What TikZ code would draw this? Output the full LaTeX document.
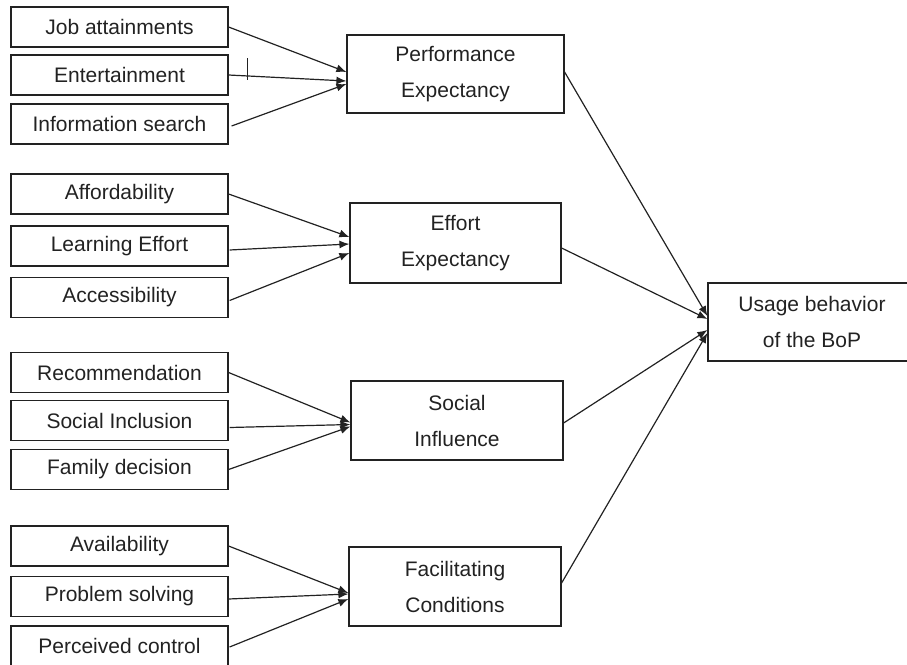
\documentclass[tikz,border=0pt]{standalone}
\usepackage{fontspec}
\setmainfont{Liberation Sans}
\usetikzlibrary{arrows.meta,calc}
\definecolor{ink}{HTML}{222222}
\begin{document}
\begin{tikzpicture}[x=1pt,y=-1pt,
  every node/.style={font=\fontsize{21}{36}\selectfont, text=ink},
  lbox/.style={draw=ink, line width=1.2pt, inner sep=0pt, minimum width=217pt, minimum height=40pt},
  mbox/.style={draw=ink, line width=1.2pt, inner sep=0pt, minimum width=212pt, minimum height=79pt, align=center},
  conn/.style={draw=ink, line width=1.2pt, -{Latex[length=10pt,width=8pt]}}
]
\useasboundingbox (0,0) rectangle (907,664);

% left boxes
\node[lbox] (job)  at (119.5,27)  {Job attainments};
\node[lbox] (ent)  at (119.5,75)  {Entertainment};
\node[lbox] (info) at (119.5,124) {Information search};

\node[lbox] (aff)  at (119.5,194) {Affordability};
\node[lbox] (lea)  at (119.5,246) {Learning Effort};
\node[lbox] (acc)  at (119.5,297.5) {Accessibility};

\node[lbox] (rec)  at (119.5,372.5) {Recommendation};
\node[lbox] (soc)  at (119.5,420.5) {Social Inclusion};
\node[lbox] (fam)  at (119.5,469.5) {Family decision};

\node[lbox] (ava)  at (119.5,546) {Availability};
\node[lbox] (pro)  at (119.5,596.5) {Problem solving};
\node[lbox] (per)  at (119.5,646) {Perceived control};

% middle boxes
\node[mbox, minimum width=217pt, minimum height=78pt] (pe) at (455.5,74) {Performance\\Expectancy};
\node[mbox, minimum width=211pt, minimum height=80pt] (ee) at (455.5,243) {Effort\\Expectancy};
\node[mbox, minimum width=212pt, minimum height=79pt] (si) at (457,420.5) {Social\\Influence};
\node[mbox, minimum width=212pt, minimum height=79pt] (fc) at (455,586.5) {Facilitating\\Conditions};

% outcome box
\node[mbox, minimum width=208pt, minimum height=78pt] (ub) at (812,322) {Usage behavior\\of the BoP};

% inputs to Performance Expectancy
\draw[conn] (job.east) -- ($(pe.west)+(0,-2)$);
\draw[conn] (ent.east) -- ($(pe.west)+(0,7)$);
\draw[conn] ($(info.east)+(3,2)$) -- ($(pe.west)+(0,10)$);
\coordinate (tickA) at (247,58);
\coordinate (tickB) at (247,80);
\draw[draw=ink, line width=1pt] (tickA) -- (tickB);

% inputs to Effort Expectancy
\draw[conn] (aff.east) -- ($(ee.west)+(0,-6)$);
\draw[conn] ($(lea.east)+(1,4)$) -- ($(ee.west)+(0,1)$);
\draw[conn] ($(acc.east)+(1,3)$) -- ($(ee.west)+(0,10)$);

% inputs to Social Influence
\draw[conn] (rec.east) -- ($(si.west)+(0,2)$);
\draw[conn] ($(soc.east)+(1,7)$) -- ($(si.west)+(0,4)$);
\draw[conn] (fam.east) -- ($(si.west)+(0,6)$);

% inputs to Facilitating Conditions
\draw[conn] (ava.east) -- ($(fc.west)+(0,6.5)$);
\draw[conn] ($(pro.east)+(0,2.5)$) -- ($(fc.west)+(0,7.5)$);
\draw[conn] ($(per.east)+(1,1)$) -- ($(fc.west)+(0,12.5)$);

% to outcome
\draw[conn] ($(pe.east)+(0,-2)$) -- ($(ub.west)+(0,-6)$);
\draw[conn] ($(ee.east)+(0,5)$) -- ($(ub.west)+(0,-3)$);
\draw[conn] ($(si.east)+(0,2.5)$) -- ($(ub.west)+(0,8)$);
\draw[conn] ($(fc.east)+(0,-3.5)$) -- ($(ub.west)+(0,11)$);
\end{tikzpicture}
\end{document}
